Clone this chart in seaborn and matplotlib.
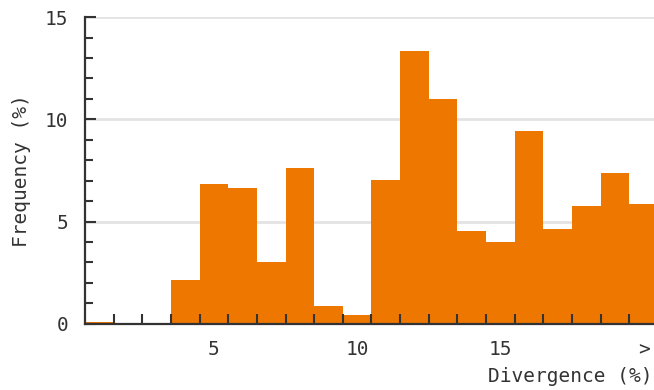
import matplotlib
matplotlib.use("Agg")
import matplotlib.pyplot as plt
from matplotlib.ticker import FixedLocator
import seaborn as sns
import numpy as np

# Divergence bins (percent, bin centres) and their frequencies (percent)
divergence = [1, 2, 3, 4, 5, 6, 7, 8, 9, 10, 11, 12, 13, 14, 15, 16, 17, 18, 19, 20]
frequency = [0.1, 0.0, 0.0, 2.14, 6.86, 6.65, 3.02, 7.63, 0.88, 0.41,
             7.04, 13.33, 11.0, 4.54, 4.02, 9.41, 4.63, 5.78, 7.35, 5.87]
x_tick_values = [5, 10, 15, 20]
x_tick_labels = ["5", "10", "15", ">"]
y_tick_values = [0, 5, 10, 15]

sns.set_style("white")
plt.rcParams["font.family"] = ["DejaVu Sans Mono"]

fig = plt.figure(figsize=(6.54, 3.90), dpi=100)
ax = fig.add_axes([0.130, 0.170, 0.876, 0.786])

ink = "#333333"
bar_color = "#EE7700"

# light horizontal gridlines behind the bars
for yv in y_tick_values[1:]:
    ax.axhline(yv, color="#e3e3e3", linewidth=2.0, zorder=0)

sns.histplot(x=divergence, weights=frequency, discrete=True, stat="count",
             color=bar_color, alpha=1.0, linewidth=0, ax=ax)
for patch in ax.patches:
    patch.set_zorder(2)

ax.set_xlim(0.5, 20.5)
ax.set_ylim(0, 15)
ax.grid(False)
ax.set_axisbelow(False)
# ticks and axis lines are drawn on top of the bars
ax.xaxis.set_zorder(5)
ax.yaxis.set_zorder(5)

ax.set_yticks(y_tick_values)
ax.set_xticks(x_tick_values)
ax.set_xticklabels(x_tick_labels)
ax.xaxis.set_minor_locator(FixedLocator(np.arange(1.5, 20.0, 1.0)))
ax.yaxis.set_minor_locator(FixedLocator(np.arange(1, 15, 1)))

ax.tick_params(axis="x", which="major", length=0, pad=12, labelsize=14, labelcolor=ink)
ax.tick_params(axis="x", which="minor", direction="in", length=7.5, width=1.5,
               color=ink, bottom=True)
ax.tick_params(axis="y", which="major", direction="in", length=8, width=1.5,
               pad=12, labelsize=14, labelcolor=ink, color=ink, left=True)
ax.tick_params(axis="y", which="minor", direction="in", length=5.5, width=1.5,
               color=ink, left=True)

for side in ("top", "right"):
    ax.spines[side].set_visible(False)
for side in ("left", "bottom"):
    ax.spines[side].set_color(ink)
    ax.spines[side].set_linewidth(1.6)
    ax.spines[side].set_zorder(6)

ax.set_xlabel("")
ax.set_ylabel("")
fig.text(22 / 654, 1 - 171 / 390, "Frequency (%)", rotation=90, ha="center",
         va="center", fontsize=14, color=ink)
fig.text(652 / 654, 1 - 376 / 390, "Divergence (%)", ha="right", va="center",
         fontsize=14, color=ink)

fig.savefig("out.png", dpi=100)
